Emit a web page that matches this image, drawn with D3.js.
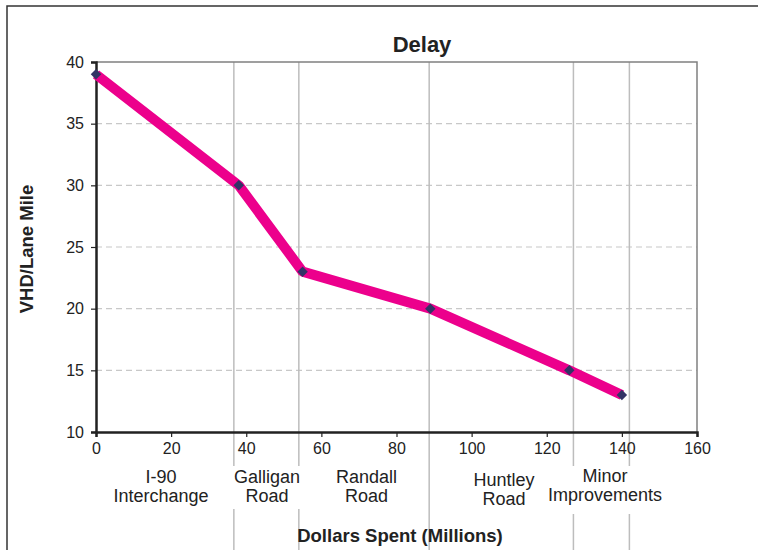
<!DOCTYPE html>
<html><head><meta charset="utf-8">
<script src="https://cdn.jsdelivr.net/npm/d3@7"></script>
<style>body{margin:0;background:#fff}svg{display:block}text{font-family:"Liberation Sans",Arial,sans-serif}</style>
</head><body><svg id="c" width="758" height="550"></svg>
<script>
const dollars = [0, 38, 55, 89, 126, 140];
const delay = [39, 30, 23, 20, 15, 13];
const projectBounds = [36.7, 54, 88.7, 127.1, 142];
const projectNames = [["I-90","Interchange"],["Galligan","Road"],["Randall","Road"],["Huntley","Road"],["Minor","Improvements"]];
const projectLabelX = [17.3, 45.5, 72, 108.6, 135.5];
const projectLabelDy = [0, 0, 0, 3, -1];
const xTicks = [0,20,40,60,80,100,120,140,160];
const yTicks = [10,15,20,25,30,35,40];

const svg = d3.select("#c");
const L=96,R=697,T=62,B=432;
const x = d3.scaleLinear().domain([0,160]).range([L,R]);
const y = d3.scaleLinear().domain([10,40]).range([B,T]);

// outer frame
svg.append("path").attr("d","M7,550V6H758").attr("fill","none").attr("stroke","#333").attr("stroke-width",1.5);

// horizontal gridlines
svg.append("g").selectAll("line").data(yTicks.filter(d=>d>10&&d<40)).join("line")
  .attr("x1",L).attr("x2",R).attr("y1",d=>y(d)).attr("y2",d=>y(d))
  .attr("stroke","#c8c8c8").attr("stroke-width",1.2).attr("stroke-dasharray","6,4");

// project boundary lines
svg.append("g").selectAll("line").data(projectBounds).join("line")
  .attr("x1",d=>x(d)).attr("x2",d=>x(d)).attr("y1",T).attr("y2",550)
  .attr("stroke","#bdbdbd").attr("stroke-width",1.5);

// plot border top/right
svg.append("path").attr("d",`M${L},${T}H${R}V${B}`).attr("fill","none").attr("stroke","#808080").attr("stroke-width",1.5);

// axes
const xAxis = svg.append("g").attr("transform",`translate(0,${B})`)
  .call(d3.axisBottom(x).tickValues(xTicks).tickSize(5).tickPadding(6));
const yAxis = svg.append("g").attr("transform",`translate(${L},0)`)
  .call(d3.axisLeft(y).tickValues(yTicks).tickSize(5).tickPadding(7));
[xAxis,yAxis].forEach(a=>{
  a.select(".domain").attr("stroke","#222").attr("stroke-width",2.5);
  a.selectAll(".tick line").attr("stroke","#222").attr("stroke-width",1.2);
  a.selectAll(".tick text").attr("fill","#222").style("font-size","16px").style("font-family","Liberation Sans, Arial, sans-serif");
});

// category labels with white boxes
const lab = svg.append("g");
projectNames.forEach((n,i)=>{
  const cx = x(projectLabelX[i]);
  const dy = projectLabelDy[i];
  const g = lab.append("g");
  const t = g.append("text").attr("text-anchor","middle").attr("fill","#222").style("font-size","18px");
  t.append("tspan").attr("x",cx).attr("y",483+dy).text(n[0]);
  t.append("tspan").attr("x",cx).attr("y",502+dy).text(n[1]);
  const bb = t.node().getBBox();
  g.insert("rect","text").attr("x",bb.x-3).attr("y",466).attr("width",bb.width+6).attr("height",i===4?48:43).attr("fill","#fff");
});

// series line
svg.append("path").datum(dollars.map((d,i)=>[d,delay[i]]))
  .attr("d",d3.line().x(d=>x(d[0])).y(d=>y(d[1])))
  .attr("fill","none").attr("stroke","#EC008C").attr("stroke-width",10).attr("stroke-linejoin","bevel");

// markers
svg.append("g").selectAll("path").data(dollars.map((d,i)=>[d,delay[i]])).join("path")
  .attr("transform",d=>`translate(${x(d[0])},${y(d[1])})`)
  .attr("d",d3.symbol(d3.symbolDiamond2,70)).attr("fill","#333366");

// titles
svg.append("text").attr("x",422).attr("y",52).attr("text-anchor","middle").attr("fill","#222")
  .style("font-size","22px").style("font-weight","bold").text("Delay");
svg.append("text").attr("x",400).attr("y",542).attr("text-anchor","middle").attr("fill","#222")
  .style("font-size","18.5px").style("font-weight","bold").text("Dollars Spent (Millions)");
svg.append("text").attr("transform","translate(33,249) rotate(-90)").attr("text-anchor","middle").attr("fill","#222")
  .style("font-size","18.5px").style("font-weight","bold").text("VHD/Lane Mile");
</script></body></html>
